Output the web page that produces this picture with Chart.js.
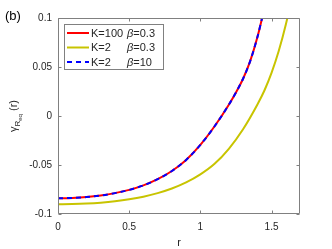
<!DOCTYPE html>
<html>
<head>
<meta charset="utf-8">
<script src="https://cdn.jsdelivr.net/npm/chart.js@4.4.1/dist/chart.umd.min.js"></script>
<style>
  html, body { margin: 0; padding: 0; background: #fff; }
  #wrap { width: 332px; height: 249px; }
</style>
</head>
<body>
<div id="wrap"><canvas id="myChart" width="332" height="249"></canvas></div>
<script>
// data
const rRed = [0, 0.1, 0.2, 0.3, 0.4, 0.5, 0.6, 0.7, 0.8, 0.9, 1.0, 1.1, 1.2, 1.25, 1.3, 1.35, 1.4, 1.45];
const gammaK100 = [-0.084, -0.0836, -0.0827, -0.0811, -0.0787, -0.0754, -0.0708, -0.0645, -0.0561, -0.0448, -0.0295, -0.0105, 0.0115, 0.024, 0.038, 0.056, 0.080, 0.110];
const gammaK2b10 = [-0.084, -0.0836, -0.0827, -0.0811, -0.0787, -0.0754, -0.0708, -0.0645, -0.0561, -0.0448, -0.0295, -0.0105, 0.0115, 0.024, 0.038, 0.056, 0.080, 0.110];

const rYellow = [0, 0.1, 0.2, 0.3, 0.4, 0.5, 0.6, 0.7, 0.8, 0.9, 1.0, 1.1, 1.2, 1.3, 1.4, 1.45, 1.5, 1.55, 1.6, 1.65];
const gammaK2b03 = [-0.09, -0.0898, -0.0893, -0.0884, -0.087, -0.085, -0.0823, -0.0787, -0.074, -0.0678, -0.0596, -0.0488, -0.0335, -0.0135, 0.0115, 0.026, 0.044, 0.066, 0.093, 0.126];

const xTicks = [0, 0.5, 1, 1.5];
const yTicks = [-0.1, -0.05, 0, 0.05, 0.1];

const legendRows = [
  { k: "K=100", b: "0.3", color: "#ff0000", dash: [] },
  { k: "K=2", b: "0.3", color: "#c8c400", dash: [] },
  { k: "K=2", b: "10", color: "#0000ff", dash: [5, 4] },
];

const FONT = '"Liberation Sans", Arial, Helvetica, sans-serif';
const AXIS_COLOR = "#808080";
const TEXT_COLOR = "#262626";

function toXY(xs, ys) {
  return xs.map((x, i) => ({ x: x, y: ys[i] }));
}

function fmt(v) {
  return String(Number(v.toFixed(3)));
}

// draws the matlab-ish box, inward ticks, legend and labels
const decorPlugin = {
  id: "decor",
  afterDraw(chart) {
    const ctx = chart.ctx;
    const a = chart.chartArea;
    const xs = chart.scales.x;
    const ys = chart.scales.y;
    const L = Math.round(a.left) + 0.5;
    const R = Math.round(a.right) - 0.5;
    const T = Math.round(a.top) + 0.5;
    const B = Math.round(a.bottom) - 0.5;
    const tl = 3;

    ctx.save();
    ctx.strokeStyle = AXIS_COLOR;
    ctx.lineWidth = 1;
    ctx.beginPath();
    ctx.rect(L, T, R - L, B - T);
    xTicks.forEach(v => {
      const px = Math.round(xs.getPixelForValue(v)) + 0.5;
      ctx.moveTo(px, B); ctx.lineTo(px, B - tl);
      ctx.moveTo(px, T); ctx.lineTo(px, T + tl);
    });
    yTicks.forEach(v => {
      const py = Math.round(ys.getPixelForValue(v)) + 0.5;
      ctx.moveTo(L, py); ctx.lineTo(L + tl, py);
      ctx.moveTo(R, py); ctx.lineTo(R - tl, py);
    });
    ctx.stroke();

    // legend box
    const lx = 64.5, ly = 24.5, lw = 99, lh = 45;
    ctx.fillStyle = "#fff";
    ctx.fillRect(lx, ly, lw, lh);
    ctx.strokeStyle = AXIS_COLOR;
    ctx.strokeRect(lx, ly, lw, lh);
    legendRows.forEach((row, i) => {
      const yy = 33 + i * 14.5;
      ctx.strokeStyle = row.color;
      ctx.lineWidth = 2;
      ctx.setLineDash(row.dash);
      ctx.beginPath();
      ctx.moveTo(67, yy);
      ctx.lineTo(89, yy);
      ctx.stroke();
      ctx.setLineDash([]);
      ctx.fillStyle = TEXT_COLOR;
      ctx.textBaseline = "middle";
      ctx.textAlign = "left";
      ctx.font = "11px " + FONT;
      ctx.fillText(row.k, 91, yy + 0.5);
      ctx.font = "italic 11px " + FONT;
      ctx.fillText("\u03b2", 127, yy + 0.5);
      const bw = ctx.measureText("\u03b2").width;
      ctx.font = "11px " + FONT;
      ctx.fillText("=" + row.b, 127 + bw, yy + 0.5);
    });

    // panel tag
    ctx.fillStyle = "#000";
    ctx.font = "13px " + FONT;
    ctx.textAlign = "left";
    ctx.textBaseline = "alphabetic";
    ctx.fillText("(b)", 5, 20);

    // x label
    ctx.fillStyle = TEXT_COLOR;
    ctx.font = "11px " + FONT;
    ctx.textAlign = "center";
    ctx.fillText("r", (a.left + a.right) / 2, 246);

    // y label, rotated, with subscript
    const cy = (a.top + a.bottom) / 2;
    ctx.translate(17, cy);
    ctx.rotate(-Math.PI / 2);
    ctx.textAlign = "left";
    ctx.textBaseline = "alphabetic";
    const partMain = "\u03b3";
    const partR = "R";
    const partSub = "eq";
    const partEnd = " (r)";
    ctx.font = "11px " + FONT;
    const w1 = ctx.measureText(partMain).width;
    const w4 = ctx.measureText(partEnd).width;
    ctx.font = "8px " + FONT;
    const w2 = ctx.measureText(partR).width;
    ctx.font = "6px " + FONT;
    const w3 = ctx.measureText(partSub).width;
    let x0 = -(w1 + w2 + w3 + w4) / 2;
    ctx.font = "11px " + FONT;
    ctx.fillText(partMain, x0, 0);
    x0 += w1;
    ctx.font = "8px " + FONT;
    ctx.fillText(partR, x0, 3);
    x0 += w2;
    ctx.font = "6px " + FONT;
    ctx.fillText(partSub, x0, 5);
    x0 += w3;
    ctx.font = "11px " + FONT;
    ctx.fillText(partEnd, x0, 0);
    ctx.restore();
  }
};

const chartCanvas = document.getElementById("myChart");

window.myChart = new Chart(chartCanvas, {
  type: "line",
  data: {
    datasets: [
      {
        label: "K=2 beta=10",
        data: toXY(rRed, gammaK2b10),
        borderColor: "#0000ff",
        borderWidth: 2,
        borderDash: [5, 4],
        order: 0,
      },
      {
        label: "K=100 beta=0.3",
        data: toXY(rRed, gammaK100),
        borderColor: "#ff0000",
        borderWidth: 2,
        order: 1,
      },
      {
        label: "K=2 beta=0.3",
        data: toXY(rYellow, gammaK2b03),
        borderColor: "#c8c400",
        borderWidth: 2,
        order: 2,
      },
    ],
  },
  options: {
    responsive: false,
    animation: false,
    devicePixelRatio: 1,
    layout: { padding: { left: 0, top: 18, right: 32, bottom: 0 } },
    elements: {
      point: { radius: 0 },
      line: { cubicInterpolationMode: "monotone", fill: false },
    },
    plugins: {
      legend: { display: false },
      tooltip: { enabled: false },
    },
    scales: {
      x: {
        type: "linear",
        min: 0,
        max: 1.7,
        grid: { display: false, drawTicks: false },
        border: { display: false },
        afterFit: (s) => { s.height = 35; },
        afterBuildTicks: (s) => { s.ticks = xTicks.map(v => ({ value: v })); },
        ticks: {
          font: { family: FONT, size: 10 },
          color: TEXT_COLOR,
          padding: 7,
          maxRotation: 0,
          autoSkip: false,
          callback: (v) => fmt(v),
        },
      },
      y: {
        type: "linear",
        min: -0.1,
        max: 0.1,
        grid: { display: false, drawTicks: false },
        border: { display: false },
        afterFit: (s) => { s.width = 58; },
        afterBuildTicks: (s) => { s.ticks = yTicks.map(v => ({ value: v })); },
        ticks: {
          font: { family: FONT, size: 10 },
          color: TEXT_COLOR,
          padding: 6,
          autoSkip: false,
          callback: (v) => fmt(v),
        },
      },
    },
  },
  plugins: [decorPlugin],
});
</script>
</body>
</html>
